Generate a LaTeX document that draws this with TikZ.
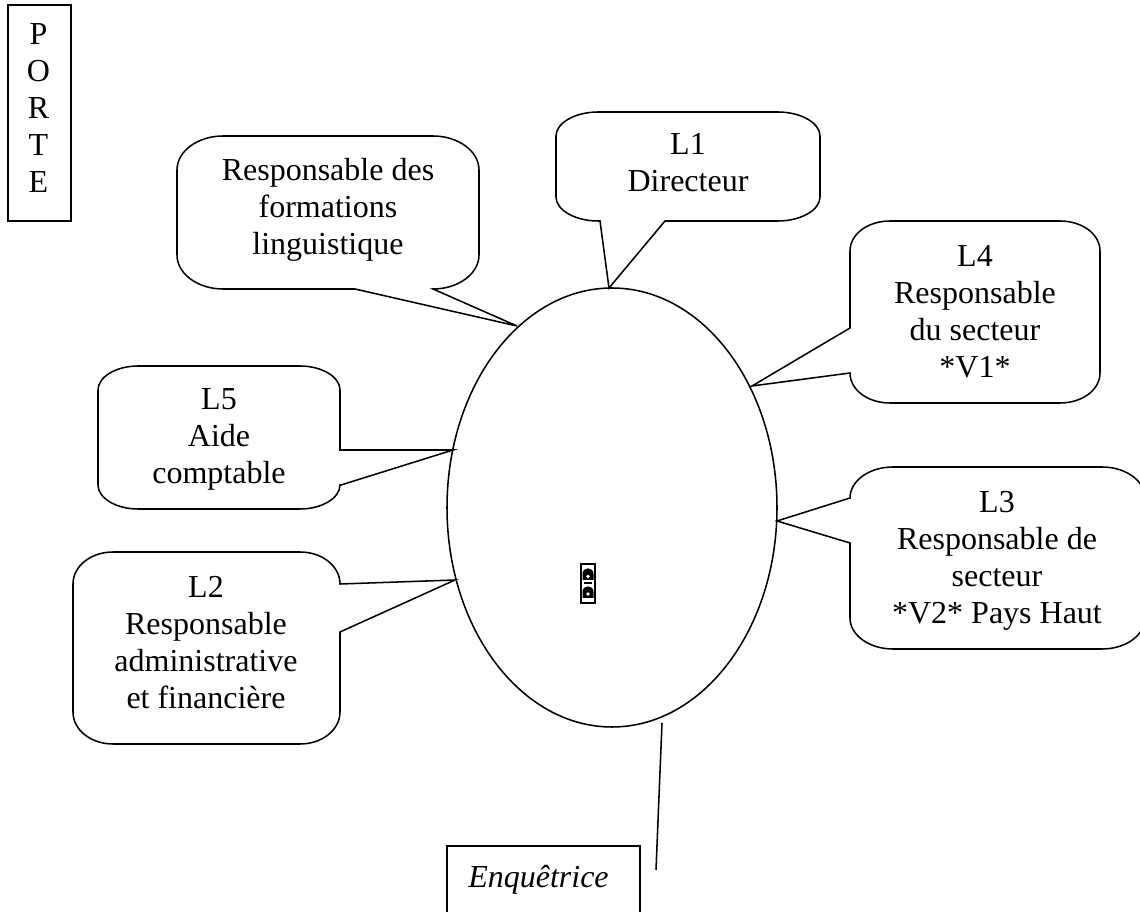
\documentclass[tikz,border=0pt]{standalone}
\usepackage{fontspec}
\setmainfont{Liberation Serif}
\tikzset{
  px/.style={x=0.75pt,y=-0.75pt},
  outline/.style={draw=black,line width=1.15pt,line join=miter,fill=white},
  label/.style={inner sep=0pt,align=center,font=\fontsize{24}{27.75}\selectfont},
}
\newcommand{\SL}{\strut}
\begin{document}
\begin{tikzpicture}[px]
\useasboundingbox (0,0) rectangle (1140,912);
% tail tips on the central ellipse
\coordinate (tipResp) at (517,326);
\coordinate (tipLa) at (609,288);
\coordinate (tipLd) at (752,386);
\coordinate (tipLc) at (777,521);
\coordinate (tipLe) at (453,450);
\coordinate (tipLb) at (455,580);
\draw[line width=1.15pt] (612,507.5) ellipse [x radius=165,y radius=219.5];
% Responsable des formations
\draw[outline] (tipResp) -- (433,289) .. controls (458,289) and (479,274) .. (479,255) -- (479,170)
  .. controls (479,151) and (458,136) .. (433,136) -- (223,136)
  .. controls (198,136) and (177,151) .. (177,170) -- (177,255)
  .. controls (177,274) and (198,289) .. (223,289) -- (355,289) -- cycle;
% L1
\draw[outline] (tipLa) -- (665,221) -- (778,221)
  .. controls (801,221) and (820,210) .. (820,197) -- (820,136)
  .. controls (820,123) and (801,112) .. (778,112) -- (598,112)
  .. controls (575,112) and (556,123) .. (556,136) -- (556,197)
  .. controls (556,210) and (575,221) .. (598,221) -- (600,221) -- cycle;
% L4
\draw[outline] (tipLd) -- (850,373)
  .. controls (850,390) and (868,403) .. (890,403) -- (1060,403)
  .. controls (1082,403) and (1100,390) .. (1100,373) -- (1100,251)
  .. controls (1100,234) and (1082,221) .. (1060,221) -- (890,221)
  .. controls (868,221) and (850,234) .. (850,251) -- (850,328) -- cycle;
% L3
\draw[outline] (tipLc) -- (850,498)
  .. controls (850,481) and (869,467) .. (893,467) -- (1102,467)
  .. controls (1126,467) and (1145,481) .. (1145,498) -- (1145,618)
  .. controls (1145,635) and (1126,649) .. (1102,649) -- (893,649)
  .. controls (869,649) and (850,635) .. (850,618) -- (850,543) -- cycle;
% L5
\draw[outline] (tipLe) -- (340,450) -- (340,390)
  .. controls (340,377) and (322,366) .. (300,366) -- (138,366)
  .. controls (116,366) and (98,377) .. (98,390) -- (98,485)
  .. controls (98,498) and (116,509) .. (138,509) -- (300,509)
  .. controls (322,509) and (340,498) .. (340,485) -- (341,485) -- cycle;
% L2
\draw[outline] (tipLb) -- (340,584)
  .. controls (340,566) and (322,552) .. (300,552) -- (113,552)
  .. controls (91,552) and (73,566) .. (73,584) -- (73,712)
  .. controls (73,730) and (91,744) .. (113,744) -- (300,744)
  .. controls (322,744) and (340,730) .. (340,712) -- (340,632) -- cycle;
% door
\node[draw=black,line width=1.15pt,minimum width=63*0.75pt,minimum height=216*0.75pt,inner sep=0pt] (door) at (39.5,113) {};
\node[label] (doortext) at (38.5,111.1) {\SL P\\O\\R\\T\\E\SL};
% survey box
\node[draw=black,line width=1.15pt,minimum width=193*0.75pt,minimum height=100*0.75pt,inner sep=0pt] (enq) at (543.5,896) {};
\node[label,anchor=base west,font=\fontsize{24}{27.75}\selectfont\itshape] (enqtext) at (468,887) {Enquêtrice};
\coordinate (enqa) at (662,723);
\coordinate (enqb) at (656,870);
\draw[line width=1.15pt] (enqa) -- (enqb);
% texts
\node[label] (respt) at (328,210.1) {\SL Responsable des\\formations\\linguistique\SL};
\node[label] (lat) at (688,166.1) {\SL L1\\Directeur\SL};
\node[label] (ldt) at (975,314.6) {\SL L4\\Responsable\\du secteur\\*V1*\SL};
\node[label] (lct) at (997,560.6) {\SL L3\\Responsable de\\secteur\\*V2* Pays Haut\SL};
\node[label] (let) at (219,439.6) {\SL L5\\Aide\\comptable\SL};
\node[label] (lbt) at (206,646.1) {\SL L2\\Responsable\\administrative\\et financière\SL};
% socket icon
\draw[line width=1pt] (581,564) rectangle (595,603);
\fill (582.5,580) -- (582.5,574) .. controls (582.5,566.5) and (593.5,566.5) .. (593.5,574) -- (593.5,580) -- cycle;
\fill[white] (588,576.5) circle [radius=1.8];
\fill (584,582.5) rectangle (592,584);
\fill (582.5,598) -- (582.5,592) .. controls (582.5,584.5) and (593.5,584.5) .. (593.5,592) -- (593.5,598) -- cycle;
\fill[white] (588,594) circle [radius=1.8];
\end{tikzpicture}
\end{document}
